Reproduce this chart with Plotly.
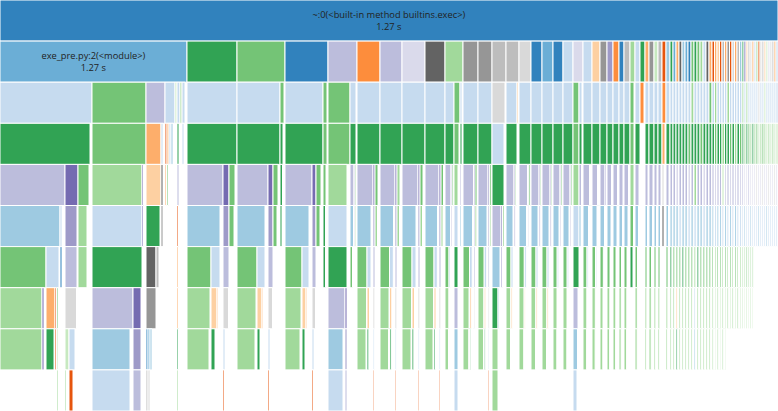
import plotly.graph_objects as go

# tab20c-like palette keys
PALETTE = {
    "b1": "#3182bd", "b2": "#6baed6", "b3": "#9ecae1", "b4": "#c6dbef",
    "o1": "#e6550d", "o2": "#fd8d3c", "o3": "#fdae6b", "o4": "#fdd0a2",
    "g1": "#31a354", "g2": "#74c476", "g3": "#a1d99b", "g4": "#c7e9c0",
    "p1": "#756bb1", "p2": "#9e9ac8", "p3": "#bcbddc", "p4": "#dadaeb",
    "k1": "#636363", "k2": "#969696", "k3": "#bdbdbd", "k4": "#d9d9d9",
}
FUNC = {
    "b1": "<frozen importlib._bootstrap_external>:1464(_get_spec)",
    "b2": "<frozen importlib._bootstrap_external>:1604(find_spec)",
    "b3": "<frozen importlib._bootstrap_external>:934(exec_module)",
    "b4": "<frozen importlib._bootstrap>:1165(_find_and_load)",
    "o1": "~:0(<built-in method marshal.loads>)",
    "o2": "<frozen importlib._bootstrap>:1207(_handle_fromlist)",
    "o3": "<frozen importlib._bootstrap_external>:729(_compile_bytecode)",
    "o4": "<frozen importlib._bootstrap_external>:1007(get_code)",
    "g1": "<frozen importlib._bootstrap>:1120(_find_and_load_unlocked)",
    "g2": "<frozen importlib._bootstrap>:233(_call_with_frames_removed)",
    "g3": "~:0(<built-in method builtins.exec>)",
    "g4": "<frozen posixpath>:71(join)",
    "p1": "<frozen importlib._bootstrap>:1054(_find_spec)",
    "p2": "<frozen importlib._bootstrap_external>:1496(find_spec)",
    "p3": "<frozen importlib._bootstrap>:666(_load_unlocked)",
    "p4": "<frozen importlib._bootstrap>:921(_find_spec)",
    "k1": "~:0(<built-in method _imp.create_dynamic>)",
    "k2": "<frozen importlib._bootstrap_external>:1231(create_module)",
    "k3": "<frozen importlib._bootstrap>:558(module_from_spec)",
    "k4": "<frozen importlib._bootstrap>:1207(_handle_fromlist)",
}

ROOT_LABEL = "~:0(<built-in method builtins.exec>)"
ROOT_TIME = "1.27 s"
ROOT_VALUE = 778
MAIN_LABEL = "exe_pre.py:2(<module>)"
MAIN_TIME = "1.27 s"

# level 1 (children of the root), left to right
l1_values = [187, 50, 48, 43, 29, 23, 22, 23, 20, 18, 15, 14, 14, 13, 12, 11, 11, 10, 10, 10,
             9, 8, 7, 6, 6, 5, 6, 5, 5, 5, 4, 5, 4, 4, 4, 4, 3, 3, 3, 3,
             3, 3, 3, 3, 3, 3, 3, 3, 3, 3,
             2.5, 2.5, 2.5, 2.5, 2.5, 2.5, 2.5, 2.5, 2.5, 2.5, 2.5, 2.5,
             2, 2, 2, 2, 2, 2, 2, 2, 2, 2, 2, 2, 2, 2, 2, 2, 2, 2]
l1_colors = ["b2", "g1", "g2", "b1", "p3", "o2", "p3", "p4", "k1", "g3", "k2", "k2", "k3", "k3", "k4",
             "b1", "b2", "b1", "b4", "p4", "b4", "o4", "k2", "p2", "o2", "b1", "k3", "g3", "b4", "g1",
             "o3", "k2", "g4", "k3", "o1", "b3", "g1", "b2", "o3", "k1",
             "b3", "b2", "b1", "g2", "g1", "g2", "g3", "b4", "k1", "o3",
             "o1", "o3", "o4", "o1", "k3", "o3", "k2", "o1", "k4", "o3", "k3", "b3",
             "g1", "p1", "o4", "k3", "k4", "o3", "b4", "g3", "o1", "k4", "k3", "o4", "g4", "p4",
             "k4", "k3", "o3", "b4"]

# deeper levels: (id, value, colour); parent id = id without its last letter
lv2 = [
    ("0a", 92, "b4"), ("0b", 54, "g2"), ("0c", 19, "p3"), ("0d", 10, "b4"), ("0e", 2, "g4"),
    ("0f", 3, "b4"), ("0g", 2, "g3"), ("0h", 3, "b4"),
    ("1a", 50, "b4"), ("2a", 43, "b4"), ("2b", 4, "g2"), ("3a", 38, "b4"), ("3b", 4, "g2"),
    ("4a", 22, "g2"), ("4b", 6, "b4"), ("5a", 23, "b4"), ("6a", 22, "b4"), ("7a", 23, "b4"),
    ("8a", 20, "b4"), ("9a", 9, "b4"), ("9b", 6, "g2"), ("9c", 2, "b4"),
    ("10a", 15, "b4"), ("11a", 14, "b4"), ("12a", 13, "k4"), ("13a", 11, "b4"), ("13b", 1.5, "o4"),
    ("14a", 12, "b4"), ("15a", 11, "b4"), ("16a", 11, "b4"), ("17a", 10, "b4"), ("18a", 10, "b4"),
    ("19a", 6, "g2"), ("19b", 3, "b4"), ("20a", 9, "b4"), ("21a", 8, "b4"), ("22a", 7, "b4"),
    ("23a", 6, "b4"), ("24a", 6, "b4"), ("25a", 5, "b4"), ("26a", 6, "b4"), ("27a", 4, "g2"),
    ("28a", 5, "b4"), ("29a", 4, "o2"), ("30a", 4, "b4"), ("31a", 5, "b4"), ("32a", 4, "b4"),
    ("33a", 4, "b4"), ("34a", 4, "o2"), ("35a", 4, "b4"),
    ("36a", 3, "b4"), ("37a", 3, "b4"), ("38a", 3, "b4"), ("39a", 3, "b4"), ("40a", 3, "b4"),
    ("41a", 3, "b4"), ("42a", 3, "b4"), ("43a", 3, "g3"), ("44a", 3, "b4"), ("45a", 3, "b4"),
    ("46a", 3, "b4"), ("47a", 3, "b4"), ("48a", 3, "b4"), ("49a", 3, "g2"),
    ("50a", 2.5, "b4"), ("51a", 2.5, "g3"), ("52a", 2.5, "b4"), ("53a", 2.5, "b4"), ("54a", 2.5, "b4"),
    ("55a", 2.5, "b4"), ("56a", 2.5, "g3"), ("57a", 2.5, "b4"), ("58a", 2.5, "b4"), ("59a", 2.5, "b4"),
    ("60a", 2.5, "b4"), ("61a", 2.5, "b4"),
    ("62a", 2, "g3"), ("63a", 2, "b4"), ("64a", 2, "g3"), ("65a", 2, "b4"), ("66a", 2, "b4"),
    ("67a", 2, "b4"), ("68a", 2, "b4"), ("69a", 2, "b4"), ("70a", 2, "k4"), ("71a", 2, "b4"),
    ("72a", 2, "b4"), ("73a", 2, "g4"), ("74a", 2, "b4"), ("75a", 2, "b4"), ("76a", 2, "b4"),
    ("77a", 2, "b4"), ("78a", 2, "b4"), ("79a", 2, "b4"),
]
lv3 = [
    ("0aa", 90, "g1"), ("0ba", 54, "g2"), ("0ca", 15, "o3"), ("0cb", 2, "b4"), ("0da", 2, "o1"),
    ("0db", 2, "o3"), ("0dc", 2, "b4"), ("0dd", 2, "b3"), ("0fa", 2, "g1"), ("0ha", 2, "b4"),
    ("1aa", 50, "g1"), ("2aa", 43, "g1"), ("2ba", 3, "g1"), ("3aa", 38, "g1"), ("3ba", 4, "g2"),
    ("4aa", 22, "g2"), ("4ba", 6, "g1"), ("5aa", 23, "g1"), ("6aa", 22, "g1"), ("7aa", 23, "g1"),
    ("8aa", 20, "g1"), ("9aa", 9, "g1"), ("9ba", 5, "g2"), ("9ca", 2, "g1"),
    ("10aa", 15, "g1"), ("11aa", 14, "g1"), ("12aa", 12, "b4"), ("13aa", 11, "g1"),
    ("14aa", 12, "g1"), ("15aa", 11, "g1"), ("16aa", 11, "g1"), ("17aa", 10, "g1"), ("18aa", 10, "g1"),
    ("19aa", 6, "g2"), ("19ba", 3, "g1"), ("20aa", 9, "g1"), ("21aa", 8, "g1"), ("22aa", 7, "g1"),
    ("23aa", 6, "g1"), ("24aa", 6, "g1"), ("25aa", 5, "g1"), ("26aa", 6, "g1"), ("27aa", 4, "g2"),
    ("28aa", 5, "g1"), ("30aa", 4, "g1"), ("31aa", 5, "g1"), ("32aa", 4, "g1"), ("33aa", 4, "g1"),
    ("34aa", 3, "o3"), ("35aa", 4, "g1"),
    ("36aa", 3, "g1"), ("37aa", 3, "g1"), ("38aa", 3, "g1"), ("39aa", 3, "g1"), ("40aa", 3, "g1"),
    ("41aa", 3, "g1"), ("42aa", 3, "g2"), ("43aa", 3, "g1"), ("44aa", 3, "g1"), ("45aa", 3, "g1"),
    ("46aa", 3, "g2"), ("47aa", 3, "g1"), ("48aa", 3, "g1"), ("49aa", 3, "g1"),
    ("50aa", 2.5, "g1"), ("51aa", 2.5, "g2"), ("52aa", 2.5, "g1"), ("53aa", 2.5, "g1"), ("54aa", 2.5, "g3"),
    ("55aa", 2.5, "g1"), ("56aa", 2.5, "g1"), ("57aa", 2.5, "g2"), ("58aa", 2.5, "g1"), ("59aa", 2.5, "g3"),
    ("60aa", 2.5, "g1"), ("61aa", 2.5, "g2"),
    ("62aa", 2, "g1"), ("63aa", 2, "g3"), ("64aa", 2, "g1"), ("65aa", 2, "g2"), ("66aa", 2, "g3"),
    ("67aa", 2, "g1"), ("68aa", 2, "g3"), ("69aa", 2, "g2"), ("70aa", 2, "g4"), ("71aa", 2, "g3"),
    ("72aa", 2, "g2"), ("73aa", 2, "g3"), ("74aa", 2, "g4"), ("75aa", 2, "g3"), ("76aa", 2, "g4"),
    ("77aa", 2, "g3"), ("78aa", 2, "g4"), ("79aa", 2, "g4"),
]
lv4 = [
    ("0aaa", 65, "p3"), ("0aab", 13, "p1"), ("0aac", 11, "g2"), ("0baa", 50, "g3"), ("0bab", 1.5, "p1"),
    ("0caa", 15, "o4"), ("0cba", 2, "k1"), ("0daa", 1.5, "o3"), ("0dba", 1.5, "g2"), ("0faa", 2, "p3"),
    ("1aaa", 36, "p3"), ("1aab", 6, "p1"), ("1aac", 6, "g2"),
    ("2aaa", 31, "p3"), ("2aab", 5, "p1"), ("2aac", 5, "g2"), ("2baa", 2.5, "g1"),
    ("3aaa", 27, "p3"), ("3aab", 4, "p1"), ("3aac", 5, "g2"), ("3baa", 3, "g2"),
    ("4aaa", 19, "g3"), ("4baa", 4, "p3"), ("4bab", 1, "p1"), ("4bac", 1, "g2"),
    ("5aaa", 16, "p3"), ("5aab", 2, "p1"), ("5aac", 3, "g2"),
    ("6aaa", 15, "p3"), ("6aab", 2, "p1"), ("6aac", 3, "g3"),
    ("7aaa", 16, "p3"), ("7aab", 2, "p1"), ("7aac", 3, "g2"),
    ("8aaa", 14, "p3"), ("8aab", 2, "p1"), ("8aac", 2.5, "g2"),
    ("9aaa", 6, "p3"), ("9aab", 1, "p1"), ("9aac", 1.3, "g2"), ("9baa", 4, "g3"), ("9caa", 1.5, "p3"),
    ("10aaa", 10.5, "p3"), ("10aab", 1.5, "p1"), ("10aac", 2, "g2"),
    ("11aaa", 10, "p3"), ("11aab", 1.4, "p1"), ("11aac", 1.8, "g2"),
    ("12aaa", 12, "g1"),
    ("13aaa", 8, "p3"), ("13aab", 1.2, "p1"), ("13aac", 1.3, "g2"),
    ("14aaa", 8.5, "p3"), ("14aab", 1.2, "p1"), ("14aac", 1.5, "g2"),
    ("15aaa", 8, "p3"), ("15aab", 1.2, "p1"), ("15aac", 1.3, "g2"),
    ("16aaa", 8, "p3"), ("16aab", 1.2, "p1"), ("16aac", 1.3, "g2"),
    ("17aaa", 7, "p3"), ("17aab", 1, "p1"), ("17aac", 1.3, "g2"),
    ("18aaa", 7, "p3"), ("18aab", 1, "p1"), ("18aac", 1.3, "g2"),
    ("19aaa", 6, "g3"), ("19baa", 2.5, "p3"),
    ("20aaa", 6.5, "p3"), ("20aab", 1, "p1"), ("20aac", 1, "g2"),
    ("21aaa", 5.5, "p3"), ("21aab", 1, "p1"), ("21aac", 1, "g2"),
    ("22aaa", 5, "p3"), ("22aab", 1, "p1"), ("23aaa", 4.5, "p3"), ("23aab", 1, "g2"),
    ("24aaa", 4.5, "p3"), ("24aab", 1, "p1"), ("25aaa", 4, "p3"), ("26aaa", 4.5, "p3"), ("26aab", 1, "g2"),
    ("27aaa", 4, "g3"), ("28aaa", 4, "p3"), ("30aaa", 3, "p3"), ("31aaa", 4, "p3"), ("32aaa", 3, "p3"),
    ("33aaa", 3, "p3"), ("34aaa", 2, "k4"), ("35aaa", 3, "p3"),
    ("36aaa", 2.5, "p3"), ("37aaa", 2.5, "p3"), ("38aaa", 2.5, "p4"), ("39aaa", 2.5, "p3"), ("40aaa", 2.5, "p3"),
    ("41aaa", 2.5, "p3"), ("42aaa", 2.5, "p4"), ("43aaa", 2.5, "p3"), ("44aaa", 2.5, "g3"), ("45aaa", 2.5, "p3"),
    ("46aaa", 2.5, "p3"), ("47aaa", 2.5, "p4"), ("48aaa", 2.5, "p3"), ("49aaa", 2.5, "p3"),
    ("50aaa", 2, "p3"), ("51aaa", 2, "p4"), ("52aaa", 2, "p3"), ("53aaa", 2, "p3"), ("54aaa", 2, "g4"),
    ("55aaa", 2, "p4"), ("56aaa", 2, "p3"), ("57aaa", 2, "p4"), ("58aaa", 2, "p3"), ("59aaa", 2, "p4"),
    ("60aaa", 2, "p3"), ("61aaa", 2, "p4"),
    ("62aaa", 1.6, "p3"), ("63aaa", 1.6, "p4"), ("64aaa", 1.6, "p4"), ("65aaa", 1.6, "p3"), ("66aaa", 1.6, "p4"),
    ("67aaa", 1.6, "p4"), ("68aaa", 1.6, "p4"), ("69aaa", 1.6, "k4"), ("70aaa", 1.6, "p4"), ("71aaa", 1.6, "p4"),
    ("72aaa", 1.6, "k4"), ("73aaa", 1.6, "p4"), ("74aaa", 1.6, "p4"), ("75aaa", 1.6, "k4"), ("76aaa", 1.6, "p4"),
    ("77aaa", 1.6, "p4"), ("78aaa", 1.6, "k4"), ("79aaa", 1.6, "p4"),
]
lv5 = [
    ("0aaaa", 60, "b3"), ("0aaab", 2, "b4"), ("0aaba", 12, "p2"), ("0aaca", 9, "g3"),
    ("0baaa", 50, "b4"), ("0baba", 1.5, "p1"), ("0caaa", 14, "g1"), ("0cbaa", 2, "k2"), ("0faaa", 1.5, "o1"),
    ("1aaaa", 33, "b3"), ("1aaba", 6, "p2"), ("1aaca", 5, "g2"),
    ("2aaaa", 28, "b3"), ("2aaba", 5, "p2"), ("2aaca", 4, "g2"), ("2baaa", 2, "g1"),
    ("3aaaa", 24, "b3"), ("3aaba", 4, "p2"), ("3aaca", 4, "g2"), ("3baaa", 2.5, "g1"),
    ("4aaaa", 19, "b4"), ("4baaa", 3.5, "b3"), ("4baba", 1, "p2"), ("4baca", 1, "g3"),
    ("5aaaa", 14, "b3"), ("5aaba", 2, "p2"), ("5aaca", 2.5, "g3"),
    ("6aaaa", 13.5, "b3"), ("6aaba", 2, "p2"), ("6aaca", 2.5, "g3"),
    ("7aaaa", 14, "b3"), ("7aaba", 2, "p2"), ("7aaca", 2.5, "g3"),
    ("8aaaa", 12.5, "b3"), ("8aaba", 2, "p2"), ("8aaca", 2, "g3"),
    ("9aaaa", 5.5, "b3"), ("9aaba", 1, "p2"), ("9baaa", 4, "b4"), ("9caaa", 1.5, "b3"),
    ("10aaaa", 9.5, "b3"), ("10aaba", 1.5, "p2"), ("10aaca", 1.8, "g3"),
    ("11aaaa", 9, "b3"), ("11aaba", 1.4, "p2"), ("11aaca", 1.6, "g3"),
    ("12aaaa", 9, "p3"), ("12aaab", 1.5, "p1"), ("12aaac", 1.5, "g2"),
    ("13aaaa", 7, "b3"), ("13aaba", 1.2, "p2"), ("14aaaa", 7.5, "b3"), ("14aaba", 1.2, "p2"),
    ("15aaaa", 7, "b3"), ("15aaba", 1.2, "p2"), ("16aaaa", 7, "b3"), ("16aaba", 1.2, "p2"),
    ("17aaaa", 6, "b3"), ("17aaba", 1, "p2"), ("18aaaa", 6, "b3"), ("18aaba", 1, "p2"),
    ("19aaaa", 6, "b4"), ("19baaa", 2, "b3"),
    ("20aaaa", 5.5, "b3"), ("21aaaa", 5, "b3"), ("22aaaa", 4.5, "b3"), ("23aaaa", 4, "b3"),
    ("24aaaa", 4, "b3"), ("25aaaa", 3.5, "b3"), ("26aaaa", 4, "b3"), ("27aaaa", 3.5, "g2"),
    ("28aaaa", 3.5, "b3"), ("30aaaa", 2.5, "b3"), ("31aaaa", 3.5, "b3"), ("32aaaa", 2.5, "b3"),
    ("33aaaa", 2.5, "b3"), ("34aaaa", 2, "k1"), ("35aaaa", 2.5, "b3"),
    ("36aaaa", 2.2, "b3"), ("37aaaa", 2.2, "b3"), ("38aaaa", 2.2, "b3"), ("39aaaa", 2.2, "b4"), ("40aaaa", 2.2, "b3"),
    ("41aaaa", 2.2, "b3"), ("42aaaa", 2.2, "b4"), ("43aaaa", 2.2, "b3"), ("44aaaa", 2.2, "b4"), ("45aaaa", 2.2, "b3"),
    ("46aaaa", 2.2, "b3"), ("47aaaa", 2.2, "b4"), ("48aaaa", 2.2, "b3"), ("49aaaa", 2.2, "b3"),
    ("50aaaa", 1.8, "b3"), ("51aaaa", 1.8, "b4"), ("52aaaa", 1.8, "b3"), ("53aaaa", 1.8, "b3"), ("54aaaa", 1.8, "b4"),
    ("55aaaa", 1.8, "b3"), ("56aaaa", 1.8, "b4"), ("57aaaa", 1.8, "b3"), ("58aaaa", 1.8, "b4"), ("59aaaa", 1.8, "b3"),
    ("60aaaa", 1.8, "b4"), ("61aaaa", 1.8, "b4"),
    ("62aaaa", 1.4, "b4"), ("63aaaa", 1.4, "b3"), ("64aaaa", 1.4, "b4"), ("65aaaa", 1.4, "b4"), ("66aaaa", 1.4, "b3"),
    ("67aaaa", 1.4, "b4"), ("68aaaa", 1.4, "b4"), ("69aaaa", 1.4, "b4"), ("70aaaa", 1.4, "b3"), ("71aaaa", 1.4, "b4"),
    ("72aaaa", 1.4, "b4"), ("73aaaa", 1.4, "b4"), ("74aaaa", 1.4, "b3"), ("75aaaa", 1.4, "b4"), ("76aaaa", 1.4, "b4"),
    ("77aaaa", 1.4, "b4"), ("78aaaa", 1.4, "b4"), ("79aaaa", 1.4, "b4"),
]
lv6 = [
    ("0aaaaa", 46, "g2"), ("0aaaab", 13, "b4"), ("0aaaba", 2, "b1"), ("0aabaa", 12, "p3"), ("0aacaa", 9, "g3"),
    ("0baaaa", 50, "g1"), ("0caaaa", 10, "k1"), ("0caaab", 3, "k3"), ("0faaaa", 1.5, "o3"),
    ("1aaaaa", 24, "g2"), ("1aaaab", 9, "b4"), ("1aabaa", 6, "p3"),
    ("2aaaaa", 20, "g2"), ("2aaaab", 8, "b4"), ("2aabaa", 5, "p3"),
    ("3aaaaa", 17, "g2"), ("3aaaab", 7, "b4"), ("3aabaa", 4, "p3"), ("3baaaa", 2.5, "g1"),
    ("4aaaaa", 19, "g1"), ("4baaaa", 2.5, "g2"),
    ("5aaaaa", 10, "g2"), ("5aaaab", 4, "b4"), ("5aabaa", 2, "p3"),
    ("6aaaaa", 9.5, "g2"), ("6aaaab", 3.8, "b4"), ("6aabaa", 2, "p3"),
    ("7aaaaa", 10, "g2"), ("7aaaab", 4, "b4"), ("7aabaa", 2, "p3"),
    ("8aaaaa", 9, "g2"), ("8aaaab", 3.3, "b4"), ("8aabaa", 2, "p3"),
    ("9aaaaa", 4, "g2"), ("9aaaab", 1.5, "b4"), ("9baaaa", 4, "g1"),
    ("10aaaaa", 6.5, "g2"), ("10aaaab", 2.7, "b4"), ("10aabaa", 1.5, "p3"),
    ("11aaaaa", 6.2, "g2"), ("11aaaab", 2.5, "b4"), ("11aabaa", 1.4, "p3"),
    ("12aaaaa", 8, "b3"), ("12aaaba", 1.5, "p2"),
    ("13aaaaa", 5, "g2"), ("13aaaab", 2, "b4"), ("14aaaaa", 5.3, "g2"), ("14aaaab", 2, "b4"),
    ("15aaaaa", 5, "g2"), ("15aaaab", 2, "b4"), ("16aaaaa", 5, "g2"), ("16aaaab", 2, "b4"),
    ("17aaaaa", 4.2, "g2"), ("17aaaab", 1.6, "b4"), ("18aaaaa", 4.2, "g2"), ("18aaaab", 1.6, "b4"),
    ("19aaaaa", 6, "g1"), ("20aaaaa", 4, "g2"), ("20aaaab", 1.3, "b4"), ("21aaaaa", 3.5, "g2"), ("21aaaab", 1.3, "b4"),
    ("22aaaaa", 3.3, "g2"), ("23aaaaa", 3, "g2"), ("24aaaaa", 3, "g2"), ("25aaaaa", 2.5, "g2"),
    ("26aaaaa", 3, "g2"), ("27aaaaa", 3, "g1"), ("28aaaaa", 2.5, "g2"), ("30aaaaa", 2, "g2"),
    ("31aaaaa", 2.5, "g2"), ("32aaaaa", 2, "g2"), ("33aaaaa", 2, "g2"), ("35aaaaa", 2, "g2"),
    ("36aaaaa", 1.8, "g1"), ("37aaaaa", 1.8, "g2"), ("38aaaaa", 1.8, "g2"), ("39aaaaa", 1.8, "g2"), ("40aaaaa", 1.8, "g1"),
    ("41aaaaa", 1.8, "g2"), ("42aaaaa", 1.8, "g2"), ("43aaaaa", 1.8, "g2"), ("44aaaaa", 1.8, "g3"), ("45aaaaa", 1.8, "g1"),
    ("46aaaaa", 1.8, "g2"), ("47aaaaa", 1.8, "g2"), ("48aaaaa", 1.8, "g2"), ("49aaaaa", 1.8, "g2"),
    ("50aaaaa", 1.5, "g2"), ("51aaaaa", 1.5, "g3"), ("52aaaaa", 1.5, "g2"), ("53aaaaa", 1.5, "g2"), ("54aaaaa", 1.5, "g3"),
    ("55aaaaa", 1.5, "g2"), ("56aaaaa", 1.5, "g3"), ("57aaaaa", 1.5, "g2"), ("58aaaaa", 1.5, "g3"), ("59aaaaa", 1.5, "g2"),
    ("60aaaaa", 1.5, "g3"), ("61aaaaa", 1.5, "g3"),
    ("62aaaaa", 1.2, "g3"), ("63aaaaa", 1.2, "g3"), ("64aaaaa", 1.2, "g2"), ("65aaaaa", 1.2, "g3"), ("66aaaaa", 1.2, "g3"),
    ("67aaaaa", 1.2, "g3"),
]
lv7 = [
    ("0aaaaaa", 42, "g3"), ("0aaaaab", 2, "p1"), ("0aaaaba", 9, "o3"), ("0aaaabb", 1.5, "o1"), ("0aaaabc", 1.5, "g2"),
    ("0aabaaa", 11.5, "k4"), ("0baaaaa", 41, "p3"), ("0baaaab", 8, "p1"), ("0caaaaa", 10, "k2"), ("0faaaaa", 1.5, "o3"),
    ("1aaaaaa", 23, "g3"), ("1aaaaba", 6, "o4"), ("1aaaabb", 1, "o3"), ("1aabaaa", 5.5, "k4"),
    ("2aaaaaa", 19, "g3"), ("2aaaaba", 5, "o4"), ("2aaaabb", 1, "o3"), ("2aabaaa", 4.5, "k4"),
    ("3aaaaaa", 16, "g3"), ("3aaaaba", 4, "o4"), ("3aaaabb", 1, "o3"), ("3aabaaa", 3.5, "k4"),
    ("4aaaaaa", 17, "p3"), ("4aaaaab", 2, "p1"),
    ("5aaaaaa", 9.5, "g3"), ("5aaaaba", 2.5, "o4"), ("5aabaaa", 1.8, "k4"),
    ("6aaaaaa", 9, "g3"), ("6aaaaba", 2.3, "o4"), ("6aabaaa", 1.8, "k4"),
    ("7aaaaaa", 9.5, "g3"), ("7aaaaba", 2.5, "o4"), ("7aabaaa", 1.8, "k4"),
    ("8aaaaaa", 8.5, "g3"), ("8aaaaba", 2, "o4"), ("8aabaaa", 1.8, "k4"),
    ("9aaaaaa", 3.8, "g3"), ("9baaaaa", 4, "p3"),
    ("10aaaaaa", 6, "g3"), ("10aaaaba", 1.7, "o4"), ("10aabaaa", 1.3, "k4"),
    ("11aaaaaa", 5.8, "g3"), ("11aaaaba", 1.6, "o4"), ("11aabaaa", 1.2, "k4"),
    ("12aaaaaa", 6, "g1"), ("12aaaaab", 1.5, "b4"),
    ("13aaaaaa", 4.7, "g3"), ("13aaaaba", 1.3, "o4"), ("14aaaaaa", 5, "g3"), ("14aaaaba", 1.3, "o4"),
    ("15aaaaaa", 4.7, "g3"), ("15aaaaba", 1.3, "o4"), ("16aaaaaa", 4.7, "g3"), ("16aaaaba", 1.3, "o4"),
    ("17aaaaaa", 4, "g3"), ("18aaaaaa", 4, "g3"), ("19aaaaaa", 5, "p3"),
    ("20aaaaaa", 3.8, "g3"), ("21aaaaaa", 3.3, "g3"), ("22aaaaaa", 3, "g3"), ("23aaaaaa", 2.8, "g3"),
    ("24aaaaaa", 2.8, "g3"), ("25aaaaaa", 2.3, "g3"), ("26aaaaaa", 2.8, "g3"), ("28aaaaaa", 2.3, "g3"),
    ("30aaaaaa", 1.8, "g3"), ("31aaaaaa", 2.3, "g3"), ("32aaaaaa", 1.8, "g3"), ("33aaaaaa", 1.8, "g3"),
    ("35aaaaaa", 1.8, "g3"),
    ("36aaaaaa", 1.6, "g3"), ("37aaaaaa", 1.6, "g3"), ("38aaaaaa", 1.6, "o4"), ("39aaaaaa", 1.6, "g3"), ("40aaaaaa", 1.6, "g3"),
    ("41aaaaaa", 1.6, "g3"), ("42aaaaaa", 1.6, "g3"), ("43aaaaaa", 1.6, "g3"), ("44aaaaaa", 1.6, "b4"), ("45aaaaaa", 1.6, "g3"),
    ("46aaaaaa", 1.6, "g3"), ("47aaaaaa", 1.6, "g3"), ("48aaaaaa", 1.6, "g3"), ("49aaaaaa", 1.6, "g3"),
    ("50aaaaaa", 1.3, "g3"), ("51aaaaaa", 1.3, "g3"), ("52aaaaaa", 1.3, "g3"), ("53aaaaaa", 1.3, "g3"), ("54aaaaaa", 1.3, "g3"),
    ("55aaaaaa", 1.3, "g3"), ("56aaaaaa", 1.3, "g3"), ("57aaaaaa", 1.3, "g3"), ("58aaaaaa", 1.3, "g3"), ("59aaaaaa", 1.3, "g3"),
    ("60aaaaaa", 1.3, "g3"), ("61aaaaaa", 1.3, "g3"),
    ("62aaaaaa", 1, "g3"), ("63aaaaaa", 1, "g4"), ("64aaaaaa", 1, "g3"), ("65aaaaaa", 1, "g4"), ("66aaaaaa", 1, "g3"),
    ("67aaaaaa", 1, "g4"),
]
lv8 = [
    ("0aaaaaaa", 42, "g3"), ("0aaaaaba", 2, "p1"), ("0aaaabaa", 8, "g1"), ("0aaaabba", 1.5, "o1"), ("0aaaabca", 1.5, "g4"),
    ("0aabaaaa", 4, "g4"), ("0aabaaab", 6, "b4"), ("0baaaaaa", 38, "b3"), ("0baaaaba", 8, "p2"),
    ("0caaaaaa", 2, "b1"), ("0caaaaab", 2, "b2"), ("0caaaaac", 2, "b3"), ("0faaaaaa", 1.5, "g1"),
    ("1aaaaaaa", 22, "g3"), ("1aaaabaa", 4, "g1"), ("1aabaaaa", 2, "b4"),
    ("2aaaaaaa", 18, "g3"), ("2aaaabaa", 3, "g1"), ("2aabaaaa", 2, "b4"),
    ("3aaaaaaa", 15, "g3"), ("3aaaabaa", 3, "g1"), ("3aabaaaa", 2, "b4"),
    ("4aaaaaaa", 15, "b3"), ("4aaaaaba", 2, "p2"),
    ("5aaaaaaa", 9, "g3"), ("5aaaabaa", 1.8, "g1"), ("5aabaaaa", 1.2, "b4"),
    ("6aaaaaaa", 8.5, "g3"), ("6aaaabaa", 1.6, "g1"), ("6aabaaaa", 1.2, "b4"),
    ("7aaaaaaa", 9, "g3"), ("7aaaabaa", 1.8, "g1"), ("7aabaaaa", 1.2, "b4"),
    ("8aaaaaaa", 8, "g3"), ("8aaaabaa", 1.5, "g1"), ("8aabaaaa", 1.2, "b4"),
    ("9aaaaaaa", 3.5, "g3"), ("9baaaaaa", 4, "b3"),
    ("10aaaaaaa", 5.7, "g3"), ("10aaaabaa", 1.2, "g1"), ("10aabaaaa", 1, "b4"),
    ("11aaaaaaa", 5.5, "g3"), ("11aaaabaa", 1.1, "g1"), ("11aabaaaa", 1, "b4"),
    ("12aaaaaaa", 6, "g3"), ("13aaaaaaa", 4.5, "g3"), ("14aaaaaaa", 4.7, "g3"), ("15aaaaaaa", 4.5, "g3"),
    ("16aaaaaaa", 4.5, "g3"), ("17aaaaaaa", 3.8, "g3"), ("18aaaaaaa", 3.8, "g3"), ("19aaaaaaa", 4.5, "b3"),
    ("20aaaaaaa", 3.6, "g3"), ("21aaaaaaa", 3.1, "g3"), ("22aaaaaaa", 2.8, "g3"), ("23aaaaaaa", 2.6, "g3"),
    ("24aaaaaaa", 2.6, "g3"), ("25aaaaaaa", 2.1, "g3"), ("26aaaaaaa", 2.6, "g3"), ("28aaaaaaa", 2.1, "g3"),
    ("30aaaaaaa", 1.6, "g3"), ("31aaaaaaa", 2.1, "g3"), ("32aaaaaaa", 1.6, "g3"), ("33aaaaaaa", 1.6, "g3"),
    ("35aaaaaaa", 1.6, "g3"),
    ("36aaaaaaa", 1.4, "g3"), ("37aaaaaaa", 1.4, "g3"), ("38aaaaaaa", 1.4, "g1"), ("39aaaaaaa", 1.4, "g3"), ("40aaaaaaa", 1.4, "g3"),
    ("41aaaaaaa", 1.4, "g3"), ("42aaaaaaa", 1.4, "g3"), ("43aaaaaaa", 1.4, "g3"), ("44aaaaaaa", 1.4, "b3"), ("45aaaaaaa", 1.4, "g3"),
    ("46aaaaaaa", 1.4, "g3"), ("47aaaaaaa", 1.4, "g3"), ("48aaaaaaa", 1.4, "g3"), ("49aaaaaaa", 1.4, "g3"),
    ("50aaaaaaa", 1.2, "g3"), ("51aaaaaaa", 1.2, "g3"), ("52aaaaaaa", 1.2, "g3"), ("53aaaaaaa", 1.2, "g3"),
    ("54aaaaaaa", 1.2, "g3"), ("55aaaaaaa", 1.2, "g3"),
]
lv9 = [
    ("0aaaabcaa", 1.5, "g3"), ("0aabaaaaa", 1.5, "g3"), ("0aabaaaba", 4, "o1"),
    ("0baaaaaaa", 38, "b4"), ("0baaaabaa", 8, "p3"), ("0caaaaaaa", 2, "k3"), ("0caaaaaba", 2, "k4"),
    ("0faaaaaaa", 1.5, "g3"),
    ("1aabaaaaa", 1.5, "o1"), ("2aabaaaaa", 1.5, "o1"), ("3aabaaaaa", 1.5, "o1"),
    ("4aaaaaaaa", 15, "b4"), ("4aaaaabaa", 2, "p3"),
    ("5aabaaaaa", 1, "o1"), ("6aabaaaaa", 1, "o1"), ("7aabaaaaa", 1, "o1"), ("8aabaaaaa", 1, "o1"),
    ("9baaaaaaa", 4, "b4"), ("10aabaaaaa", 1, "o1"), ("11aabaaaaa", 1, "o1"),
    ("12aaaaaaaa", 6, "g3"), ("19aaaaaaaa", 4, "b4"),
]

# ---- assemble the hierarchy ----
ids = ["root"]
parents = [""]
labels = [ROOT_LABEL]
values = [ROOT_VALUE]
colors = [PALETTE["b1"]]
texts = [f"{ROOT_LABEL}<br>{ROOT_TIME}"]

for i, (v, c) in enumerate(zip(l1_values, l1_colors)):
    ids.append(str(i))
    parents.append("root")
    values.append(v)
    colors.append(PALETTE[c])
    if i == 0:
        labels.append(MAIN_LABEL)
        texts.append(f"{MAIN_LABEL}<br>{MAIN_TIME}")
    else:
        labels.append(FUNC[c])
        texts.append("")

for level in (lv2, lv3, lv4, lv5, lv6, lv7, lv8, lv9):
    for nid, v, c in level:
        ids.append(nid)
        parents.append(nid[:-1])
        values.append(v)
        colors.append(PALETTE[c])
        labels.append(FUNC[c])
        texts.append("")

# sanity checks
idset = set(ids)
assert len(idset) == len(ids), "duplicate ids"
vmap = dict(zip(ids, values))
child_sum = {}
for nid, p, v in zip(ids, parents, values):
    if p:
        assert p in idset, f"missing parent {p} for {nid}"
        child_sum[p] = child_sum.get(p, 0) + v
for p, s in child_sum.items():
    assert s <= vmap[p] + 1e-9, f"children of {p} exceed: {s} > {vmap[p]}"

fig = go.Figure(go.Icicle(
    ids=ids,
    labels=labels,
    parents=parents,
    values=values,
    text=texts,
    branchvalues="total",
    sort=False,
    textinfo="text",
    texttemplate="%{text}",
    textposition="middle center",
    textfont=dict(family="Open Sans, Noto Sans, sans-serif", size=9.3, color="#222222"),
    marker=dict(colors=colors, line=dict(color="white", width=1)),
    leaf=dict(opacity=1),
    tiling=dict(orientation="v"),
    pathbar=dict(visible=False),
    hoverinfo="skip",
))
fig.update_layout(
    width=778, height=411,
    margin=dict(l=0, r=0, t=0, b=0),
    paper_bgcolor="white",
    hovermode=False,
)
fig.write_html(
    "out.html",
    config={"displayModeBar": False},
    post_script="document.body.style.margin='0';document.body.style.overflow='hidden';",
)
